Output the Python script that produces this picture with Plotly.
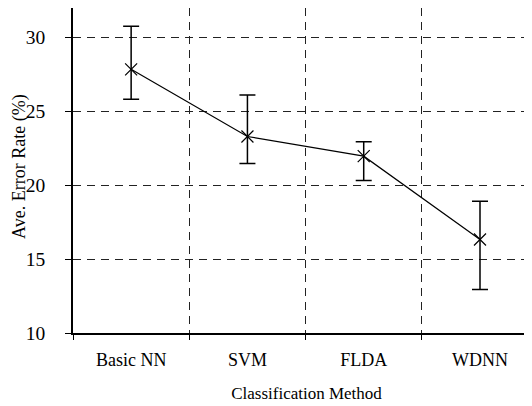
import plotly.graph_objects as go

methods = ["Basic NN", "SVM", "FLDA", "WDNN"]
mean_err = [27.85, 23.3, 21.97, 16.33]
upper_err = [30.77, 26.11, 22.95, 18.92]
lower_err = [25.82, 21.48, 20.33, 12.94]

plus = [u - m for u, m in zip(upper_err, mean_err)]
minus = [m - l for m, l in zip(mean_err, lower_err)]

y_ticks = [10, 15, 20, 25, 30]

FONT = "Liberation Serif"

fig = go.Figure()
fig.add_trace(go.Scatter(
    x=methods, y=mean_err, mode="lines+markers",
    line=dict(color="black", width=1.2),
    marker=dict(symbol="x-thin-open", size=12, color="black",
                line=dict(color="black", width=1.2)),
    error_y=dict(type="data", symmetric=False, array=plus, arrayminus=minus,
                 color="black", thickness=1.5, width=8),
    showlegend=False,
))

fig.update_layout(
    width=532, height=406,
    margin=dict(l=65, r=0, t=0, b=81),
    paper_bgcolor="white", plot_bgcolor="white",
    font=dict(family=FONT, size=17, color="black"),
    xaxis=dict(
        type="category", range=[-0.5, 3.516], tickson="boundaries",
        automargin=False,
        showgrid=True, gridcolor="#222", gridwidth=1, griddash="8px,6px",
        showline=True, linecolor="black", linewidth=1.5, mirror=True,
        ticks="outside", ticklen=5, tickcolor="black", tickwidth=1.2,
        ticklabelstandoff=10, tickfont=dict(size=18),
        title=dict(text="Classification Method", font=dict(size=17), standoff=18),
        zeroline=False,
    ),
    yaxis=dict(
        range=[10, 32], tickvals=y_ticks, automargin=False,
        showgrid=True, gridcolor="#222", gridwidth=1, griddash="8px,6px",
        showline=True, linecolor="black", linewidth=1.5, mirror=False,
        ticks="outside", ticklen=6, tickcolor="black", tickwidth=1.2,
        ticklabelstandoff=16,
        zeroline=False, tickfont=dict(size=19.5),
    ),
    annotations=[dict(
        text="Ave. Error Rate (%)", textangle=-90,
        xref="paper", yref="paper", x=-0.1416, y=0.512,
        xanchor="left", yanchor="middle", showarrow=False,
        font=dict(size=18, family=FONT, color="black"),
    )],
)

fig.write_html("out.html")
